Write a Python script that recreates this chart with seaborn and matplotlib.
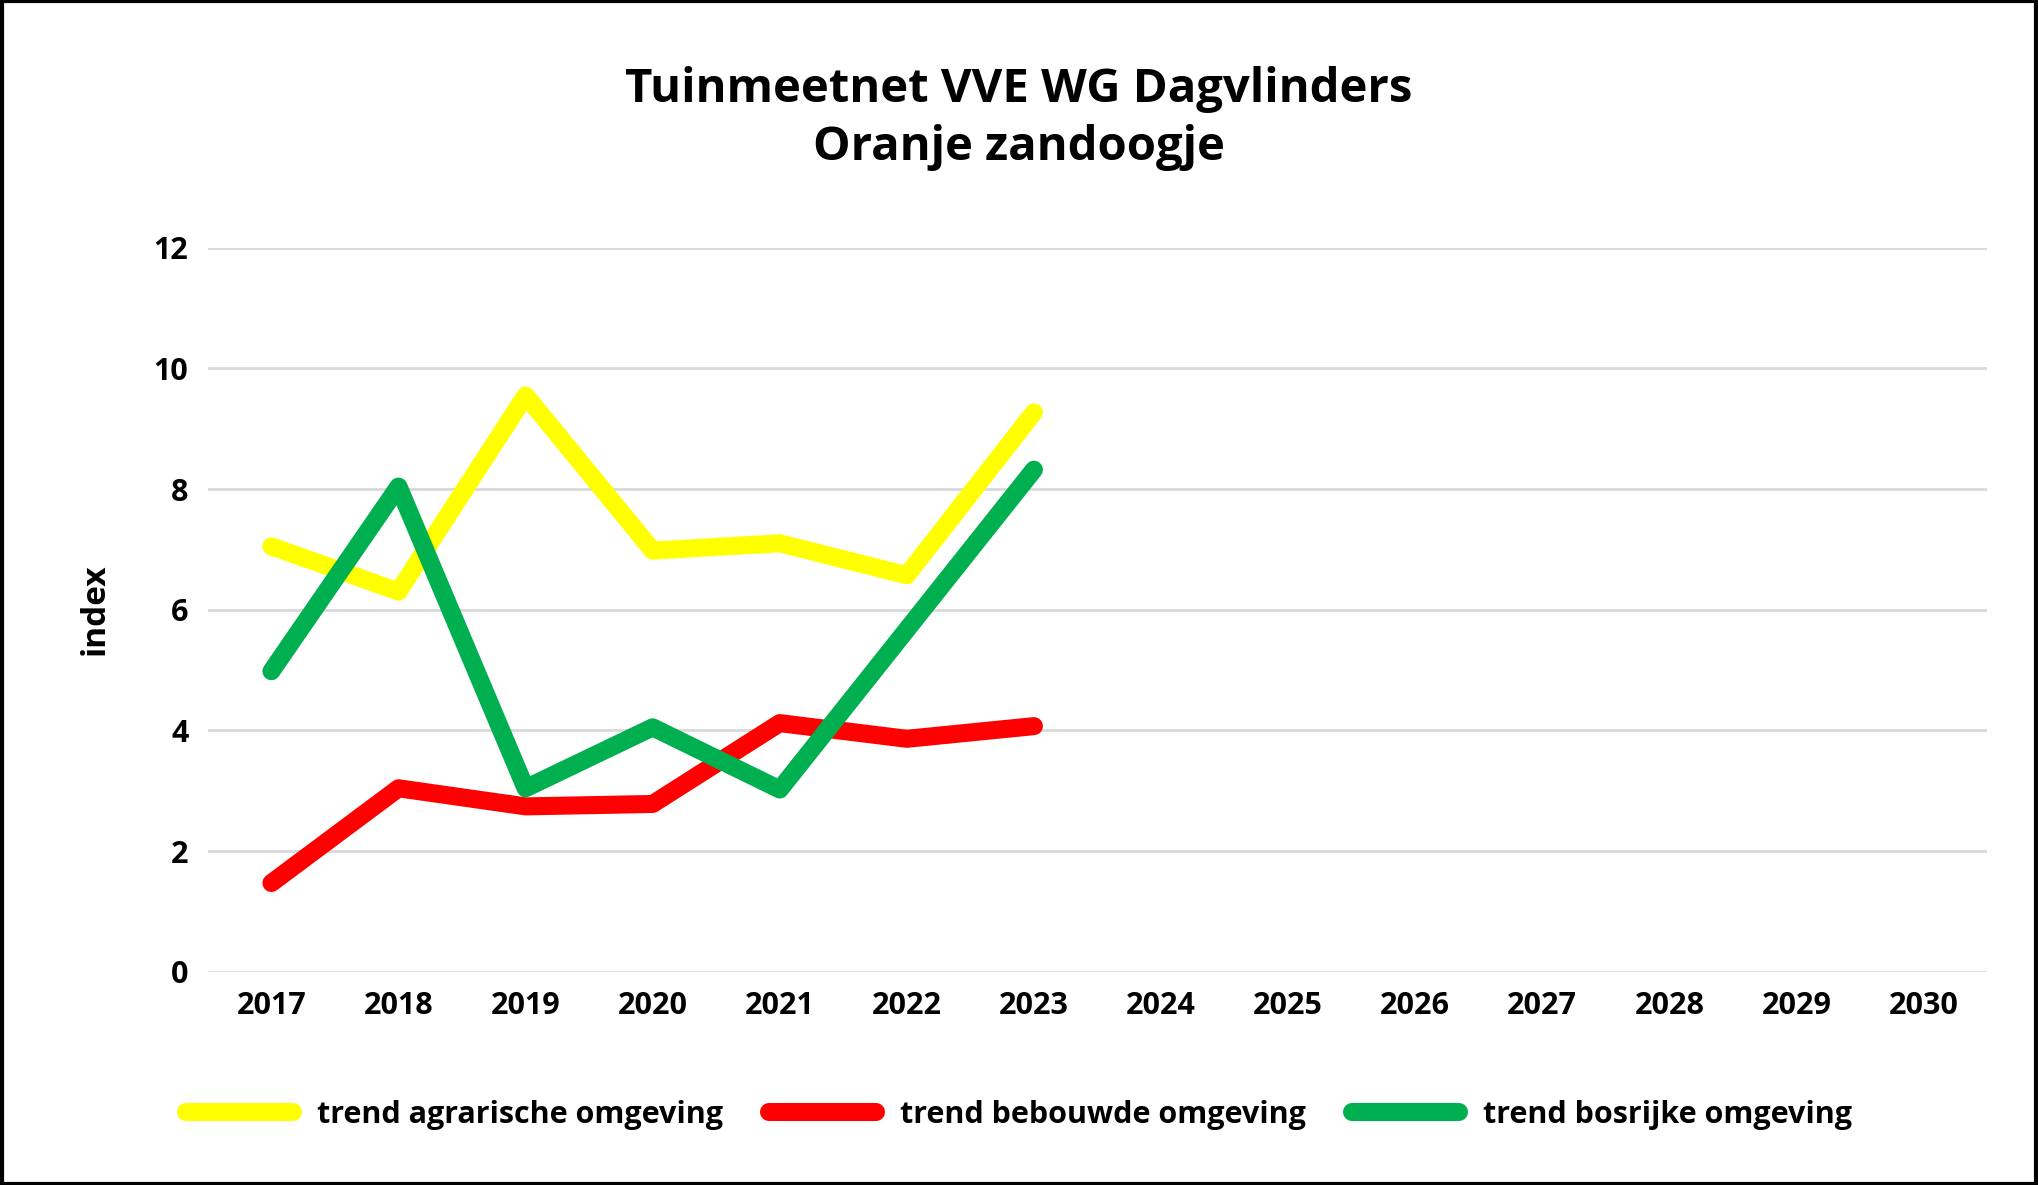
import matplotlib
matplotlib.use("Agg")
import matplotlib.pyplot as plt
import seaborn as sns
import pandas as pd

years = [2017, 2018, 2019, 2020, 2021, 2022, 2023]
all_years = list(range(2017, 2031))
agrarisch = [7.05, 6.3, 9.55, 6.98, 7.1, 6.57, 9.27]
bebouwd = [1.47, 3.04, 2.74, 2.78, 4.12, 3.86, 4.07]
bosrijk = [4.98, 8.04, 3.04, 4.05, 3.02, 5.67, 8.32]
series_names = ["trend agrarische omgeving", "trend bebouwde omgeving", "trend bosrijke omgeving"]
colors = ["#FFFF00", "#FF0000", "#00B050"]

df = pd.DataFrame({"jaar": years * 3,
                   "index": agrarisch + bebouwd + bosrijk,
                   "reeks": [n for n in series_names for _ in years]})

plt.rcParams["font.family"] = "Open Sans"
plt.rcParams["font.weight"] = "bold"
fig = plt.figure(figsize=(20.38, 11.85), dpi=100)
ax = fig.add_axes([0.102, 0.18, 0.873, 0.611])
sns.lineplot(data=df, x="jaar", y="index", hue="reeks", palette=colors,
             linewidth=13, solid_capstyle="round", ax=ax, legend=False)
ax.set_xlim(2016.5, 2030.5)
ax.set_ylim(0, 12)
ax.set_yticks(range(0, 13, 2))
ax.set_xticks(all_years)
ax.tick_params(axis="both", length=0, labelsize=22, pad=14)
for lab in ax.get_xticklabels() + ax.get_yticklabels():
    lab.set_fontweight("bold")
ax.yaxis.grid(True, color="#D9D9D9", linewidth=2)
ax.set_axisbelow(True)
for s in ax.spines.values():
    s.set_visible(False)
ax.set_xlabel("")
ax.set_ylabel("index", fontsize=24, fontweight="bold", labelpad=30)
fig.text(0.5, 0.9, "Tuinmeetnet VVE WG Dagvlinders\nOranje zandoogje", ha="center",
         va="center", fontsize=34, fontweight="bold", linespacing=1.3)
from matplotlib.lines import Line2D
handles = [Line2D([0], [0], color=c, linewidth=13, solid_capstyle="round") for c in colors]
fig.legend(handles, series_names, loc="center", bbox_to_anchor=(0.5, 0.059), ncol=3,
           frameon=False, fontsize=22, handlelength=3.5, columnspacing=1.5,
           prop={"weight": "bold", "size": 22})
fig.patches.append(plt.Rectangle((0.001, 0.001), 0.998, 0.998, transform=fig.transFigure,
                                 fill=False, edgecolor="black", linewidth=3))
fig.savefig("out.png", dpi=100)
